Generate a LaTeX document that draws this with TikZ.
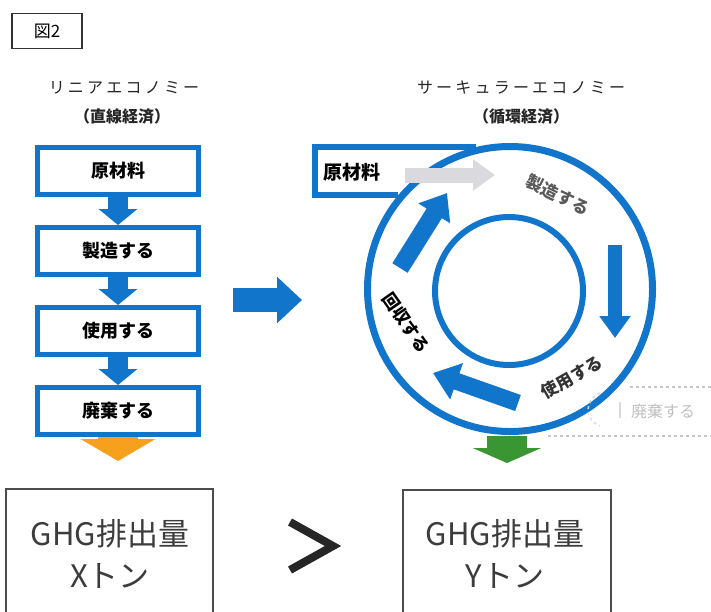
\documentclass[tikz,border=0pt]{standalone}
\usepackage{fontspec}
\setmainfont{Noto Sans CJK JP}
\usetikzlibrary{arrows.meta,positioning}
\definecolor{flowblue}{RGB}{18,117,204}
\definecolor{wasteorange}{RGB}{247,160,30}
\definecolor{keepgreen}{RGB}{58,150,50}
\definecolor{fadegrey}{RGB}{218,218,222}
\definecolor{inkgrey}{RGB}{60,60,60}
\tikzset{
    stepbox/.style={draw=flowblue, line width=5pt, minimum width=161pt, minimum height=47pt, inner sep=0pt, font=\fontsize{18}{18}\selectfont\bfseries},
    flowarrow/.style={flowblue, line width=#1},
    title/.style={font=\fontsize{16}{16}\selectfont\addfontfeatures{LetterSpace=20}, text=black!85},
    subtitle/.style={font=\fontsize{16}{16}\selectfont\bfseries, text=black!85},
    ringlabel/.style={font=\fontsize{17}{17}\selectfont\bfseries},
    ghgtext/.style={font=\fontsize{31}{42}\selectfont, align=center, text=inkgrey},
    ghgframe/.style={draw=black!70, line width=1.5pt},
}
\begin{document}
\begin{tikzpicture}[x=1pt, y=-1pt]
    \useasboundingbox (0,0) rectangle (711,611);

    %label
    \node (fig) [draw=black!80, line width=1.3pt, minimum width=70pt, minimum height=35pt, font=\fontsize{17}{17}\selectfont] at (47,31) {図2};

    %(a) linear
    \node (linT) [title] at (124,88) {リニアエコノミー};
    \node (linS) [subtitle] at (122,116) {（直線経済）};
    \node (raw1) [stepbox] at (118,171) {原材料};
    \node (make1) [stepbox] at (118,251) {製造する};
    \node (use1) [stepbox] at (118,331) {使用する};
    \node (waste1) [stepbox] at (118,411) {廃棄する};
    \draw [flowarrow=20pt, -{Triangle[width=38pt,length=16pt]}] (raw1.south) -- (make1.north);
    \draw [flowarrow=20pt, -{Triangle[width=38pt,length=16pt]}] (make1.south) -- (use1.north);
    \draw [flowarrow=20pt, -{Triangle[width=38pt,length=16pt]}] (use1.south) -- (waste1.north);
    \coordinate (out1) at (118,461);
    \draw [wasteorange, line width=40pt, -{Triangle[width=74pt,length=22pt]}] (waste1.south) -- (out1);

    %between
    \coordinate (bigA) at (233,300);
    \coordinate (bigB) at (302,300);
    \draw [flowarrow=24pt, -{Triangle[width=45pt,length=25pt]}] (bigA) -- (bigB);

    %(b) circular
    \node (cirT) [title] at (521,88) {サーキュラーエコノミー};
    \node (cirS) [subtitle] at (521,116) {（循環経済）};
    \node (ring) [circle, draw=flowblue, line width=7pt, minimum size=285pt, inner sep=0pt] at (510,289) {};
    \node (hole) [circle, draw=flowblue, line width=6pt, minimum size=148pt, inner sep=0pt] at (509,291) {};
    \draw [flowblue, line width=6pt, line join=miter] (476,147) -- (315,147) -- (315,195) -- (398,195);
    \node (raw2) [font=\fontsize{19}{19}\selectfont\bfseries] at (352,172) {原材料};
    \coordinate (feedA) at (405,175);
    \coordinate (feedB) at (495,175);
    \draw [fadegrey, line width=15pt, -{Triangle[width=30pt,length=22pt]}] (feedA) -- (feedB);
    \node (make2) [ringlabel, rotate=-26, text=black!65] at (558,195) {製造する};
    \node (use2) [ringlabel, rotate=30, text=black!80] at (572,377) {使用する};
    \node (back2) [ringlabel, rotate=-55] at (406,323) {回収する};
    \coordinate (downA) at (615,245);
    \coordinate (downB) at (615,338);
    \draw [flowarrow=14pt, -{Triangle[width=30pt,length=22pt]}] (downA) -- (downB);
    \coordinate (leftA) at (518,403);
    \coordinate (leftB) at (433,373);
    \draw [flowarrow=17pt, -{Triangle[width=37pt,length=25pt]}] (leftA) -- (leftB);
    \coordinate (upA) at (400,268);
    \coordinate (upB) at (447,193);
    \draw [flowarrow=18pt, -{Triangle[width=36pt,length=24pt]}] (upA) -- (upB);
    \coordinate (keepA) at (507,436);
    \coordinate (keepB) at (507,463);
    \draw [keepgreen, line width=40pt, -{Triangle[width=68pt,length=15pt]}] (keepA) -- (keepB);

    %faded waste
    \draw [black!22, line width=2pt, dashed] (630,387) -- (711,387);
    \draw [black!22, line width=2pt, dashed] (548,436) -- (711,436);
    \draw [black!15, line width=1.5pt, dashed] (600,393) .. controls (584,400) and (584,420) .. (600,426);
    \draw [black!15, line width=1.5pt] (620,402) -- (620,418);
    \node (waste2) [font=\fontsize{16}{16}\selectfont, text=black!25] at (663,411) {廃棄する};

    %result
    \draw [ghgframe] (6,640) -- (6,489) -- (213,489) -- (213,640);
    \node (ghg1) [ghgtext] at (110,554) {GHG排出量\\Xトン};
    \draw [black!85, line width=8pt, line join=miter] (290,522) -- (333,546) -- (290,570);
    \draw [ghgframe] (403,640) -- (403,490) -- (611,490) -- (611,640);
    \node (ghg2) [ghgtext] at (505,554) {GHG排出量\\Yトン};
\end{tikzpicture}
\end{document}
